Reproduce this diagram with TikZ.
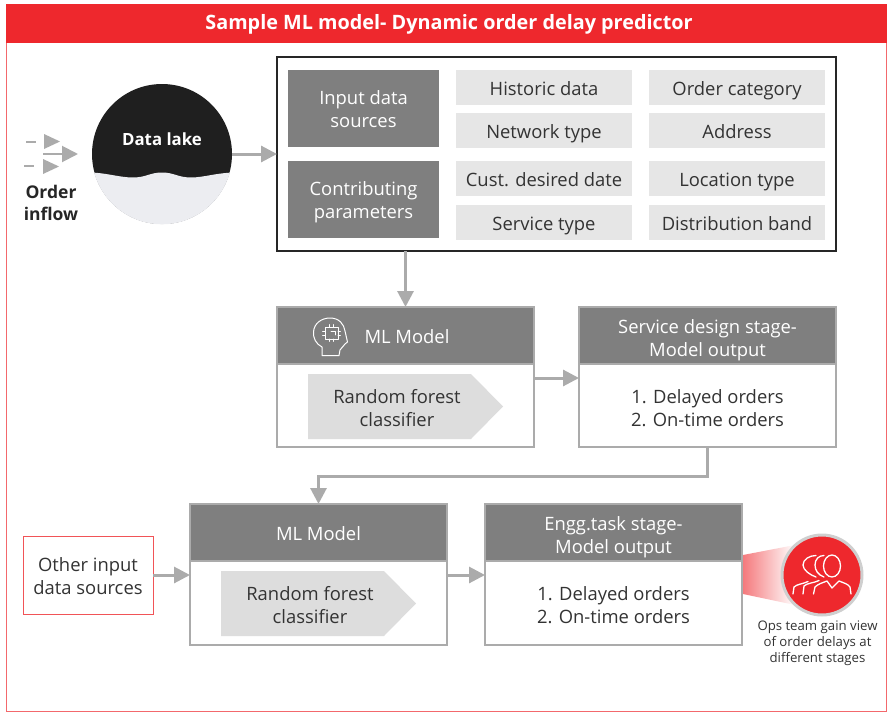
\documentclass[tikz,border=0pt]{standalone}
\usepackage{fontspec}
\setmainfont{Open Sans}
\usetikzlibrary{arrows.meta,shadings}
\definecolor{rd}{HTML}{EE282D}
\definecolor{hdr}{HTML}{7F7F7F}
\definecolor{cell}{HTML}{E6E6E6}
\definecolor{pent}{HTML}{DDDDDD}
\definecolor{arr}{HTML}{ABABAB}
\definecolor{txt}{HTML}{333333}
\newcommand{\st}[1]{\rule[-2pt]{0pt}{19pt}\smash{#1}}
\newcommand{\stb}[1]{\rule[-1pt]{0pt}{20pt}\smash{#1}}
\tikzset{
 x=1pt,y=-1pt,
 every node/.style={outer sep=0,inner sep=0},
 cellbox/.style={fill=cell,text=txt,font=\fontsize{18.4}{23}\selectfont},
 darkbox/.style={fill=hdr,text=white,align=center,font=\fontsize{18.4}{23}\selectfont},
 head/.style={fill=hdr,draw=arr,line width=1.2pt,text=white,align=center,font=\fontsize{18.4}{23}\selectfont},
 body/.style={draw=arr,fill=white,line width=1.2pt,text=txt,align=center,font=\fontsize{18.4}{23}\selectfont},
 conn/.style={draw=arr,line width=3pt,-{Triangle[length=16pt,width=16pt]}},
 pentatext/.style={text=txt,align=center,font=\fontsize{18.4}{23}\selectfont},
 tri/.style={fill=arr,draw=none},
 icon/.style={draw=white,line width=1.3pt,line cap=round,line join=round},
}
\newcommand{\bx}[5][]{\node[#1,minimum width=#4pt,minimum height=#5pt,anchor=north west] at (#2,#3)}
\begin{document}
\begin{tikzpicture}
\useasboundingbox (0,0) rectangle (887,712);
% frame
\draw[draw=rd!70,line width=1pt] (6.5,14) rectangle (886.5,711.5);
\fill[rd] (6,4) rectangle (887,43);
\node[text=white,font=\bfseries\fontsize{19.8}{24}\selectfont] (title) at (449,24) {Sample ML model- Dynamic order delay predictor};
% order inflow
\fill[arr] (26,140.5) rectangle (36,142.5);
\fill[tri] (44,134) -- (60,141.5) -- (44,149) -- cycle;
\fill[arr] (24,165) rectangle (34,167);
\fill[tri] (43,159) -- (59,166.5) -- (43,174) -- cycle;
\coordinate (inA) at (43,154);
\coordinate (inB) at (78,154);
\draw[arr,line width=2pt,-{Triangle[length=16pt,width=16pt]}] (inA) -- (inB);
\node[text=black!85,align=center,font=\bfseries\fontsize{17.5}{22}\selectfont] (inflow) at (51,203) {Order\\inflow};
% data lake
\node[circle,minimum size=140pt,fill=black!88] (lake) at (162,154) {};
\begin{scope}
\clip (162,154) circle (70.3);
\fill[fill={rgb,255:red,236;green,237;blue,241}] (85,172.5) .. controls (105,172) and (118,177.5) .. (133,177.5) .. controls (146,177.5) and (150,172.5) .. (162,172.5) .. controls (174,172.5) and (178,177.5) .. (191,177.5) .. controls (205,177.5) and (218,172) .. (240,172.5) -- (240,230) -- (85,230) -- cycle;
\end{scope}
\node[text=white,font=\bfseries\fontsize{16.8}{20}\selectfont] (lakelabel) at (162,139) {Data lake};
% input panel
\bx[draw=black!85,line width=1.5pt,fill=white]{277}{57}{559}{194} (panel) {};
\bx[darkbox]{288}{70}{151}{77} (srcs) {\st{Input data}\\\st{sources}};
\bx[darkbox]{288}{161}{151}{77} (params) {\st{Contributing}\\\st{parameters}};
\bx[cellbox]{456}{70}{176}{35} (c1) {\st{Historic data}};
\bx[cellbox]{649}{70}{176}{35} (c2) {\st{Order category}};
\bx[cellbox]{456}{113}{176}{35} (c3) {\st{Network type}};
\bx[cellbox]{649}{113}{176}{35} (c4) {\st{Address}};
\bx[cellbox]{456}{161}{176}{35} (c5) {\st{Cust. desired date}};
\bx[cellbox]{649}{161}{176}{35} (c6) {\st{Location type}};
\bx[cellbox]{456}{205}{176}{35} (c7) {\st{Service type}};
\bx[cellbox]{649}{205}{176}{35} (c8) {\st{Distribution band}};
% stage 1
\bx[body]{277}{364}{257}{83} (mlb1) {};
\bx[head]{277}{307}{257}{57} (mlh1) {\st{\hspace*{3pt}ML Model}};
\fill[pent] (308,374) -- (471,374) -- (503,406.5) -- (471,439) -- (308,439) -- cycle;
\node[pentatext] (rf1) at (397,407) {\st{Random forest}\\\st{classifier}};
\bx[body]{579}{364}{257}{83} (ob1) {\stb{1. Delayed orders}\\\stb{2. On-time orders}};
\bx[head]{579}{307}{257}{57} (oh1) {\stb{Service design stage-}\\\stb{Model output}};
% brain icon
\draw[icon,line width=1pt] (322,355.5) -- (322,347) .. controls (316,344) and (313,338) .. (313.5,332) .. controls (314,323) and (322,318) .. (330,318) .. controls (339,318) and (344,324) .. (345,331) -- (347.5,342) -- (345,344) -- (340,350) -- (339,355.5) -- cycle;
\draw[icon,line width=1pt] (325,327) rectangle (338,339);
\foreach \t in {329,333}{\draw[icon,line width=.8pt] (\t,324.5) -- (\t,327) (\t,339) -- (\t,341.5);}
\foreach \t in {331,335}{\draw[icon,line width=.8pt] (322.5,\t) -- (325,\t) (338,\t) -- (340.5,\t);}
\draw[icon,line width=.8pt] (331,331) -- (335,331) -- (335,335);
% stage 2
\bx[body]{190}{561}{257}{84} (mlb2) {};
\bx[head]{190}{504}{257}{57} (mlh2) {\st{ML Model}};
\fill[pent] (221,571) -- (384,571) -- (416,603.5) -- (384,636) -- (221,636) -- cycle;
\node[pentatext] (rf2) at (310,604) {\st{Random forest}\\\st{classifier}};
% callout
\shade[left color=rd!62,right color=white] (743,555) -- (795,545) -- (795,605) -- (743,594) -- cycle;
\bx[body]{485}{561}{257}{84} (ob2) {\stb{1. Delayed orders}\\\stb{2. On-time orders}};
\bx[head]{485}{504}{257}{57} (oh2) {\stb{Engg.task stage-}\\\stb{Model output}};
\bx[draw=rd!80,line width=1pt,fill=white,text=txt,align=center,font=\fontsize{18.4}{23}\selectfont]{23}{536}{130}{78} (other) {\st{Other input}\\\st{data sources}};
% ops
\node[circle,minimum size=80pt,fill=rd,draw=cell!90!black,line width=3pt] (ops) at (822,575) {};
\draw[icon] (832,566) ellipse (8.5 and 11);
\draw[icon] (824,577) .. controls (818,575) and (815,570) .. (815,565) .. controls (815,559) and (819,555.5) .. (824,555.5);
\draw[icon] (816,577) .. controls (810,575) and (803,570) .. (803,565) .. controls (803,559) and (810,555.5) .. (816,555.5);
\draw[icon] (813.5,594) -- (815,587) .. controls (818,584) and (822,583) .. (827,581) -- (832,588) -- (839,581) .. controls (844,583) and (848,584) .. (850,587) -- (851,594);
\draw[icon] (803,594) -- (804,586) .. controls (807,583) and (814,583) .. (819,580.5);
\draw[icon] (793,594) -- (794,587) .. controls (797,584) and (803,584) .. (808,581.5);
\node[text=txt,align=center,font=\fontsize{13.2}{16}\selectfont] (opstext) at (817.5,643.5) {Ops team gain view\\of order delays at\\different stages};
% connectors
\draw[conn] (lake.east) -- (lake.east -| panel.west);
\draw[conn] (mlh1.north |- panel.south) -- (mlh1.north);
\draw[conn] ([yshift=-14pt]mlb1.north east) -- ([yshift=-14pt]ob1.north west);
\draw[conn] (ob1.south) -- ++(0,29) -| (mlh2.north);
\draw[conn] (other.east) -- (other.east -| mlb2.west);
\draw[conn] ([yshift=-14pt]mlb2.north east) -- ([yshift=-14pt]ob2.north west);
\end{tikzpicture}
\end{document}
